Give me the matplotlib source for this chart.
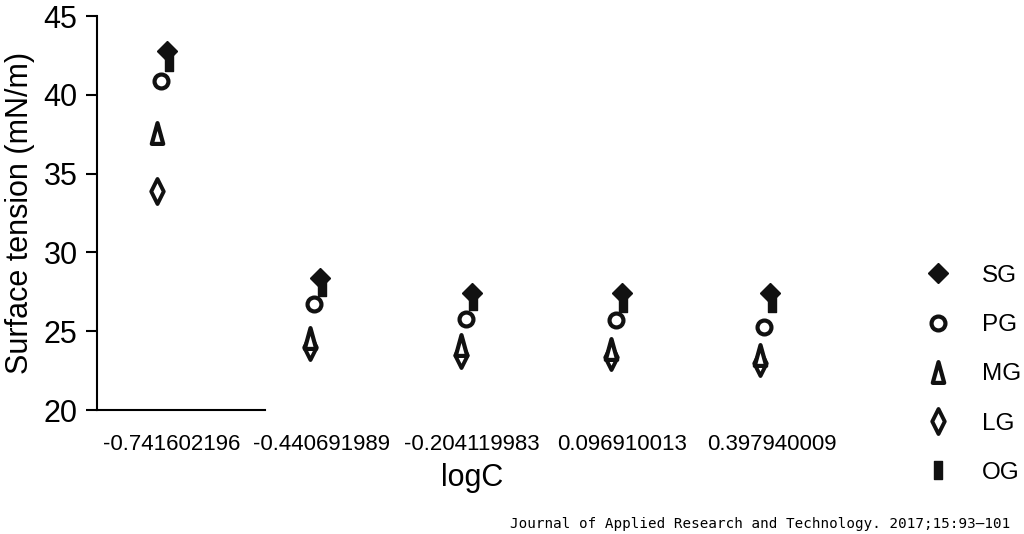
import numpy as np
import matplotlib
matplotlib.use("Agg")
import matplotlib.pyplot as plt
from matplotlib.path import Path

plt.rcParams['font.family'] = ['Liberation Sans', 'DejaVu Sans']

categories = ['-0.741602196', '-0.440691989', '-0.204119983', '0.096910013', '0.397940009']
SG = [42.8, 28.4, 27.4, 27.4, 27.4]
PG = [40.9, 26.7, 25.8, 25.7, 25.3]
MG = [37.6, 24.6, 24.1, 23.9, 23.5]
LG = [33.9, 24.0, 23.5, 23.4, 23.0]
OG = [42.1, 27.8, 26.9, 26.8, 26.8]

rect = Path([(-0.4, -1), (0.4, -1), (0.4, 1), (-0.4, 1), (-0.4, -1)],
            [Path.MOVETO, Path.LINETO, Path.LINETO, Path.LINETO, Path.CLOSEPOLY])
tri = Path([(-0.55, -1), (0.55, -1), (0, 1), (-0.55, -1)],
           [Path.MOVETO, Path.LINETO, Path.LINETO, Path.CLOSEPOLY])
thin_d = Path([(0, -1), (0.5, 0), (0, 1), (-0.5, 0), (0, -1)],
              [Path.MOVETO, Path.LINETO, Path.LINETO, Path.LINETO, Path.CLOSEPOLY])

fig = plt.figure(figsize=(10.24, 5.34), dpi=100)
ax = fig.add_axes([0.0947, 0.232, 0.732, 0.738])

x = np.arange(len(categories))
off = np.array([-0.03, -0.01, 0.0, 0.0, -0.01])

ax.plot(x + off + 0.01, OG, linestyle='none', marker=rect, markersize=13,
        color='#111111', label='OG', zorder=3)
ax.plot(x + off - 0.07, LG, linestyle='none', marker=thin_d, markersize=18,
        markerfacecolor='white', markeredgecolor='#111111', markeredgewidth=2.8, label='LG', zorder=3)
ax.plot(x + off - 0.07, MG, linestyle='none', marker=tri, markersize=15,
        markerfacecolor='white', markeredgecolor='#111111', markeredgewidth=3, label='MG', zorder=3)
ax.plot(x + off - 0.04, PG, linestyle='none', marker='o', markersize=10,
        markerfacecolor='white', markeredgecolor='#111111', markeredgewidth=3, label='PG', zorder=4)
ax.plot(x + off, SG, linestyle='none', marker='D', markersize=10,
        color='#111111', label='SG', zorder=5)

ax.set_xlim(-0.5, 4.5)
ax.set_ylim(20, 45)
ax.set_yticks([20, 25, 30, 35, 40, 45])
ax.set_xticks(x)
ax.set_xticklabels(categories, fontsize=16)
ax.tick_params(axis='y', labelsize=22, length=8, width=1.5, direction='out', pad=6)
ax.tick_params(axis='x', length=0, pad=17)
ax.spines['top'].set_visible(False)
ax.spines['right'].set_visible(False)
ax.spines['left'].set_linewidth(1.5)
ax.spines['bottom'].set_linewidth(1.5)
ax.spines['bottom'].set_bounds(-0.5, 0.62)
ax.set_ylabel('Surface tension (mN/m)', fontsize=22, labelpad=6)
ax.set_xlabel('logC', fontsize=22, labelpad=6)

h, l = ax.get_legend_handles_labels()
order = ['SG', 'PG', 'MG', 'LG', 'OG']
hs = [h[l.index(k)] for k in order]
fig.legend(hs, order, loc='upper left', bbox_to_anchor=(0.883, 0.545), frameon=False,
           fontsize=17.5, handlelength=1.0, handletextpad=1.3, labelspacing=1.12, numpoints=1)

fig.text(0.987, 0.005, 'Journal of Applied Research and Technology. 2017;15:93\u2013101',
         family='DejaVu Sans Mono', fontsize=10.3, ha='right', va='bottom')

fig.savefig('out.png', dpi=100)
